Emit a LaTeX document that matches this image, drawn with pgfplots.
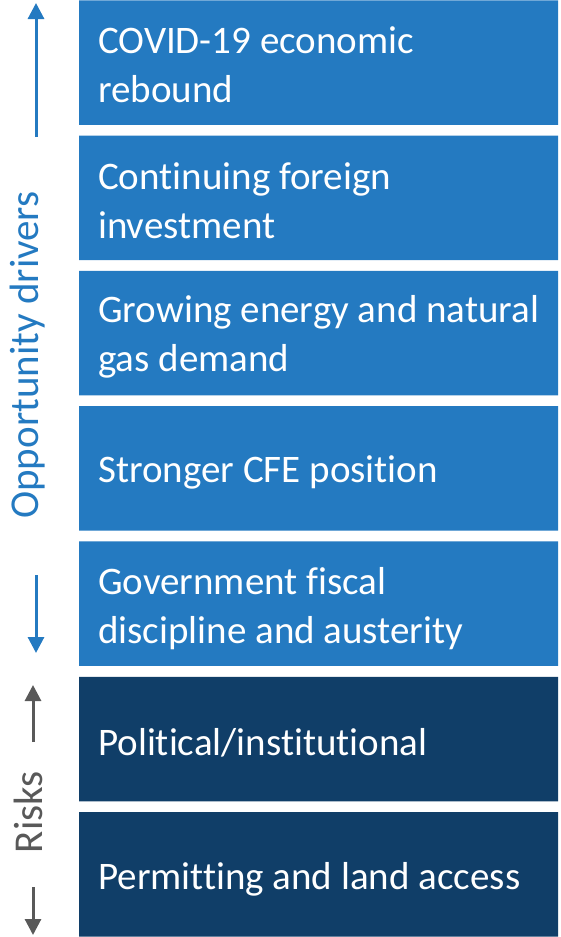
\documentclass[border=0pt]{standalone}
\usepackage{pgfplots}
\pgfplotsset{compat=1.18}
\usepackage{fontspec}
\setmainfont{Carlito}[Ligatures={NoCommon}]
\usetikzlibrary{arrows.meta}
\definecolor{lb}{RGB}{36,122,193}
\definecolor{db}{RGB}{16,62,104}
\definecolor{gr}{RGB}{89,89,89}
\begin{document}
\begin{tikzpicture}
\begin{axis}[width=561pt,height=937pt,scale only axis,hide axis,
  xmin=-79,xmax=482,ymin=0,ymax=937,y dir=reverse,clip=false]
\addplot[draw=none] coordinates {(-79,0) (482,937)};
\addplot[xbar,bar width=124.5,bar shift=0pt,fill=lb,draw=none] coordinates {(479,62.5) (479,197.8) (479,333.1) (479,468.4) (479,603.7)};
\addplot[xbar,bar width=124.5,bar shift=0pt,fill=db,draw=none] coordinates {(479,739) (479,874.3)};
% arrows
\addplot[lb,line width=3pt,-{Triangle[width=16pt,length=16pt]}] coordinates {(-43,137) (-43,3)};
\addplot[lb,line width=3pt,-{Triangle[width=16pt,length=16pt]}] coordinates {(-43,575) (-43,653)};
\addplot[gr,line width=3pt,-{Triangle[width=16pt,length=16pt]}] coordinates {(-46,742) (-46,685)};
\addplot[gr,line width=3pt,-{Triangle[width=16pt,length=16pt]}] coordinates {(-46,887) (-46,935)};
\tikzset{box/.style={anchor=west,align=left,text=white,inner sep=0pt,font=\fontsize{39}{49}\selectfont}}
\node[box] at (axis cs:19,65) {COVID-19 economic\\rebound};
\node[box] at (axis cs:19,200.3) {Continuing foreign\\investment};
\node[box] at (axis cs:19,337) {Growing energy and natural\\gas demand};
\node[box] at (axis cs:19,472.4) {Stronger CFE position};
\node[box] at (axis cs:19,608.5) {Government fiscal\\discipline and austerity};
\node[box] at (axis cs:19,743) {Political/institutional};
\node[box] at (axis cs:19,879) {Permitting and land access};
\node[rotate=90,text=lb,inner sep=0pt,font=\fontsize{41}{48}\selectfont] at (axis cs:-51,355) {Opportunity drivers};
\node[rotate=90,text=gr,inner sep=0pt,font=\fontsize{41}{48}\selectfont] at (axis cs:-51,812) {Risks};
\end{axis}
\end{tikzpicture}
\end{document}
